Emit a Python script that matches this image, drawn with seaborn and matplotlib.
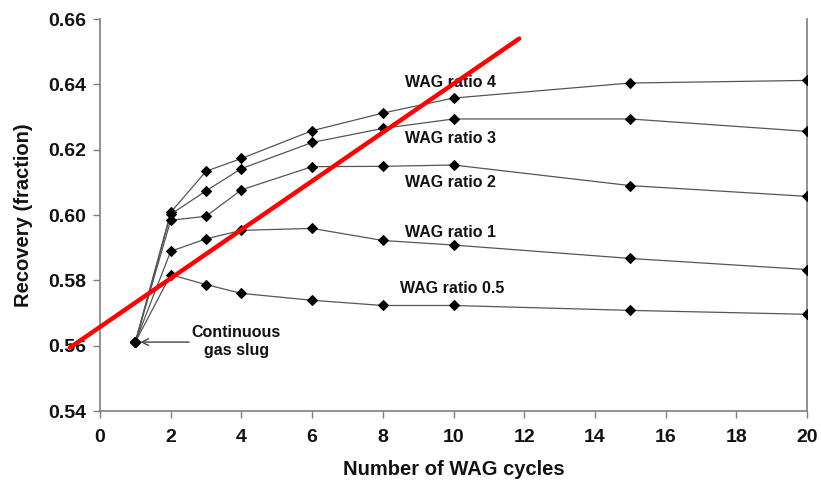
import matplotlib
matplotlib.use("Agg")
import matplotlib.pyplot as plt
import seaborn as sns
import pandas as pd

# WAG cycle counts and recovery for each WAG ratio
cycles = [1, 2, 3, 4, 6, 8, 10, 15, 20]
wag_4 = [0.5611, 0.6008, 0.6134, 0.6173, 0.6258, 0.6312, 0.6358, 0.6404, 0.6412]
wag_3 = [0.5611, 0.6002, 0.6074, 0.6142, 0.6222, 0.6265, 0.6294, 0.6294, 0.6256]
wag_2 = [0.5611, 0.5984, 0.5996, 0.6077, 0.6148, 0.6149, 0.6153, 0.6090, 0.6057]
wag_1 = [0.5611, 0.5889, 0.5927, 0.5953, 0.5959, 0.5922, 0.5908, 0.5867, 0.5833]
wag_05 = [0.5611, 0.5817, 0.5787, 0.5760, 0.5739, 0.5723, 0.5723, 0.5708, 0.5696]

series_names = ["WAG ratio 4", "WAG ratio 3", "WAG ratio 2", "WAG ratio 1", "WAG ratio 0.5"]
series_values = [wag_4, wag_3, wag_2, wag_1, wag_05]
label_x = [8.62, 8.62, 8.62, 8.62, 8.49]
label_y = [0.6405, 0.6234, 0.6098, 0.5945, 0.5774]

# Red trend line endpoints
trend_x = [-0.85, 11.86]
trend_y = [0.5594, 0.6540]

df = pd.DataFrame({
    "cycles": cycles * len(series_names),
    "recovery": [v for vals in series_values for v in vals],
    "series": [n for n in series_names for _ in cycles],
})

sns.set_style("white")
plt.rcParams["font.family"] = ["Liberation Sans", "DejaVu Sans"]
plt.rcParams["font.weight"] = "bold"

fig = plt.figure(figsize=(8.21, 4.87), dpi=100)
ax = fig.add_axes([100 / 821, 1 - 411 / 487, 707 / 821, 392 / 487])

sns.lineplot(data=df, x="cycles", y="recovery", hue="series",
             palette=["#555555"] * len(series_names), linewidth=0.9,
             marker="D", markersize=5, markerfacecolor="black",
             markeredgecolor="black", legend=False, ax=ax, zorder=3)

sns.lineplot(x=trend_x, y=trend_y, color="#ff0000", linewidth=3.2,
             ax=ax, zorder=4, clip_on=False)

for name, lx, ly in zip(series_names, label_x, label_y):
    ax.text(lx, ly, name, fontsize=11.5, fontweight="bold",
            ha="left", va="center", color="#111111")

# Continuous gas slug callout
ax.text(3.86, 0.5613, "Continuous\ngas slug", ha="center", va="center",
        fontsize=11.5, fontweight="bold", color="#111111", linespacing=1.2)
ax.annotate("", xy=(1.14, 0.5611), xytext=(2.52, 0.5611),
            arrowprops=dict(arrowstyle="->", color="#444444", lw=1,
                            shrinkA=0, shrinkB=0, mutation_scale=12))

ax.set_xlim(0, 20)
ax.set_ylim(0.54, 0.66)
ax.set_xticks(range(0, 21, 2))
ax.set_yticks([0.54, 0.56, 0.58, 0.60, 0.62, 0.64, 0.66])
ax.set_yticklabels([f"{v:.2f}" for v in ax.get_yticks()])

for side in ["left", "bottom", "right"]:
    ax.spines[side].set_color("#7f7f7f")
    ax.spines[side].set_linewidth(1.2)
ax.spines["top"].set_visible(False)

ax.tick_params(axis="both", direction="out", length=5, width=1,
               color="#7f7f7f", labelsize=14, labelcolor="#111111",
               bottom=True, left=True)
ax.tick_params(axis="y", pad=5)
ax.tick_params(axis="x", pad=8)
for lbl in ax.get_xticklabels() + ax.get_yticklabels():
    lbl.set_fontweight("bold")

ax.set_xlabel("Number of WAG cycles", fontsize=14.5, fontweight="bold", color="#111111")
ax.set_ylabel("Recovery (fraction)", fontsize=14.5, fontweight="bold", color="#111111")
ax.xaxis.set_label_coords(0.5, -0.125)
ax.yaxis.set_label_coords(-0.095, 0.5)

fig.savefig("out.png", dpi=100, facecolor="white")
